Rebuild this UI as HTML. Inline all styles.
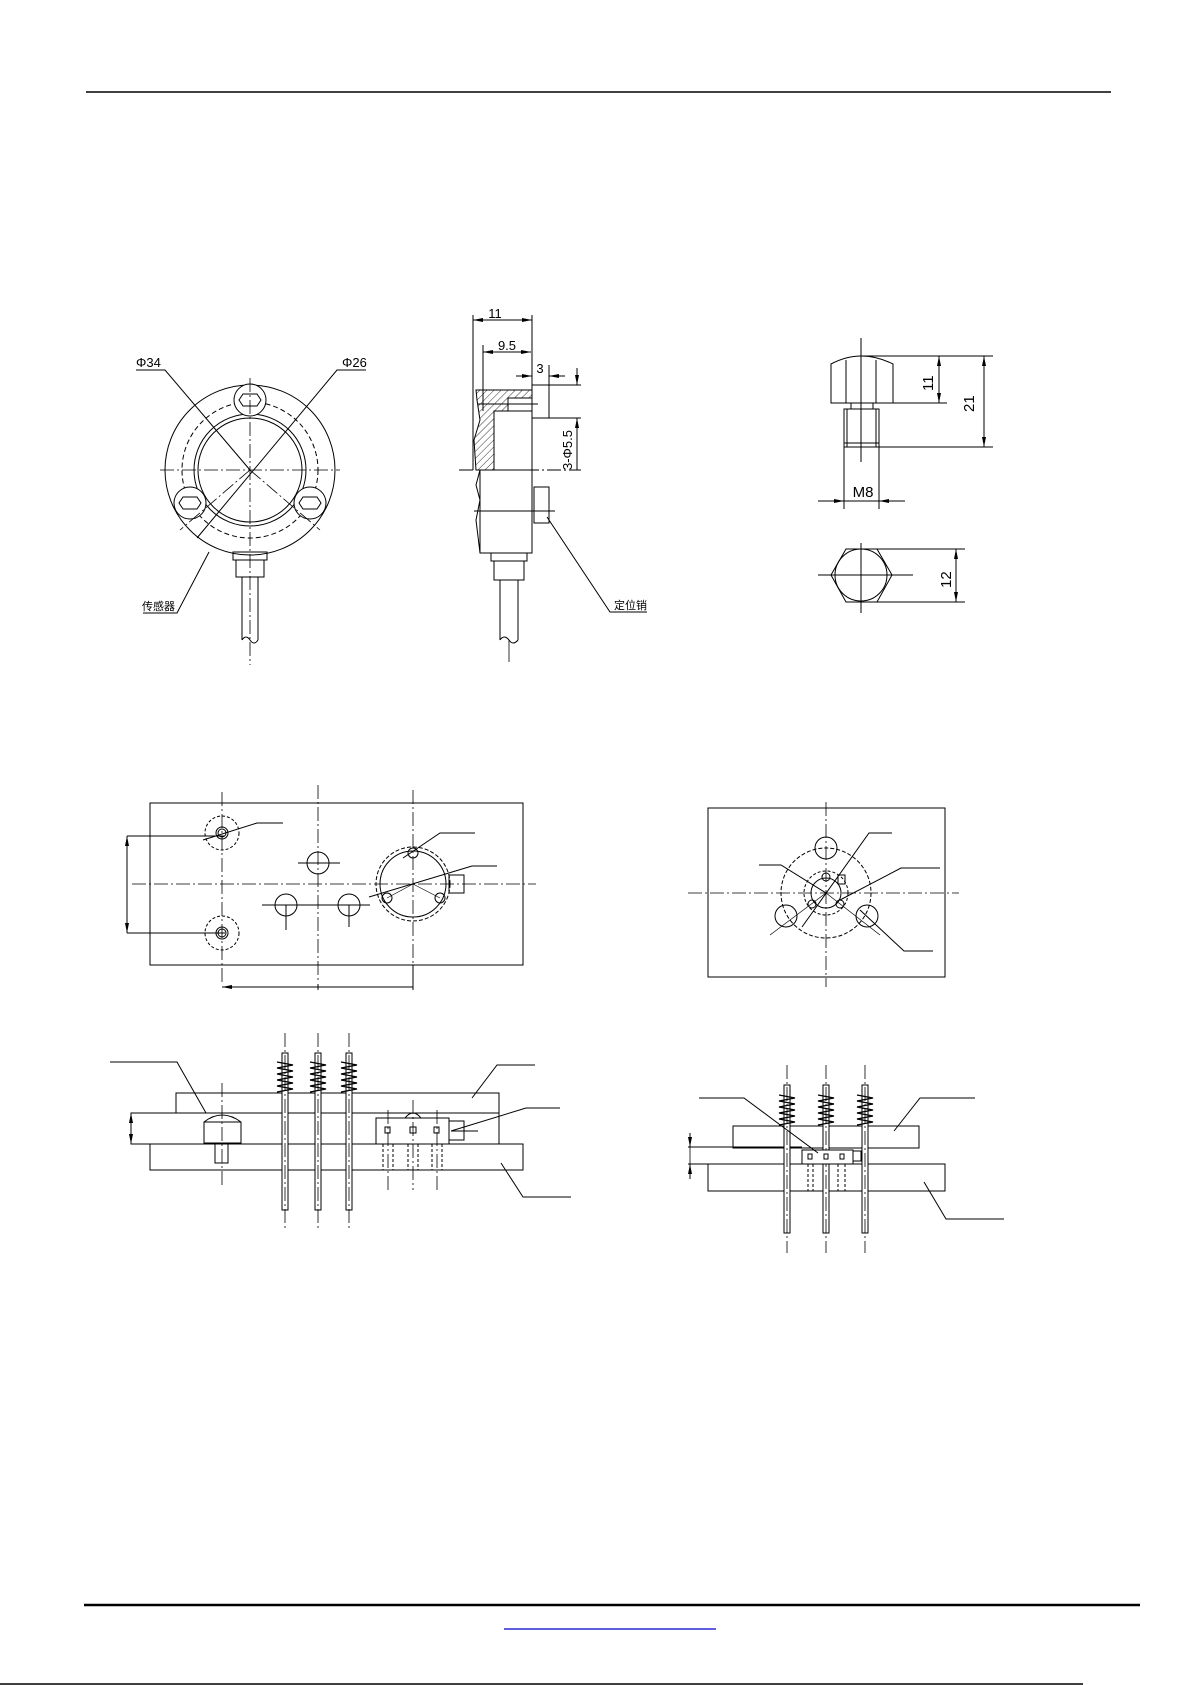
<!DOCTYPE html>
<html><head><meta charset="utf-8"><style>
html,body{margin:0;padding:0;background:#fff;}
svg{display:block;}
text{font-family:"Liberation Sans","Noto Sans CJK SC",sans-serif;fill:#000;}
</style></head><body>
<svg width="1192" height="1685" viewBox="0 0 1192 1685" xmlns="http://www.w3.org/2000/svg">
<defs>
<pattern id="h" width="5" height="5" patternUnits="userSpaceOnUse" patternTransform="rotate(45)"><line x1="0" y1="0" x2="0" y2="5" stroke="#000" stroke-width="0.8"/></pattern>
<marker id="a" markerWidth="10" markerHeight="6" refX="10" refY="3" orient="auto-start-reverse" markerUnits="userSpaceOnUse"><path d="M0,1 L10,3 L0,5z" fill="#000"/></marker>
<g id="spring"><path d="M-8,0 L8,3 L-8,6 L8,9 L-8,12 L8,15 L-8,18 L8,21 L-8,24 L8,27 L-8,30" fill="none" stroke="#000" stroke-width="1.2"/></g>
</defs>
<line x1="86" y1="92" x2="1111" y2="92" stroke="#000" stroke-width="1.5"/>

<g fill="none" stroke="#000" stroke-width="1">
<!-- front view -->
<circle cx="250" cy="470" r="85"/>
<circle cx="250" cy="470" r="68" stroke-dasharray="5 3"/>
<circle cx="250" cy="470" r="56"/>
<circle cx="250" cy="470" r="52"/>
<circle cx="250" cy="400" r="16" fill="#fff"/>
<circle cx="190" cy="503" r="16" fill="#fff"/>
<circle cx="310" cy="503" r="16" fill="#fff"/>
<polygon points="243,394 257,394 261,400 257,406 243,406 239,400"/>
<polygon points="183,497 197,497 201,503 197,509 183,509 179,503"/>
<polygon points="303,497 317,497 321,503 317,509 303,509 299,503"/>
<g stroke-dasharray="14 3 2 3" stroke-width="0.8">
<line x1="160" y1="470" x2="340" y2="470"/>
<line x1="250" y1="378" x2="250" y2="665"/>
<line x1="250" y1="470" x2="180" y2="530"/>
<line x1="250" y1="470" x2="320" y2="530"/>
</g>
<polyline points="136,370 165,370 250,470"/>
<polyline points="366,370 337,370 197,538"/>
<rect x="233" y="552" width="34" height="8"/>
<rect x="236" y="560" width="28" height="17"/>
<line x1="242" y1="577" x2="242" y2="640"/><line x1="258" y1="577" x2="258" y2="640"/>
<path d="M242,640 q4,-6 8,0 q4,6 8,0"/>
<polyline points="143,613 177,613 209,552"/>

<!-- side view -->
<path d="M476,390 L532,390 L532,470 L476,470 L474,440 L480,420 L477,400z" fill="url(#h)"/>
<rect x="508" y="398" width="24" height="20" fill="#fff"/>
<rect x="494" y="411" width="38" height="59" fill="#fff"/>
<line x1="483" y1="390" x2="483" y2="411"/>
<rect x="480" y="470" width="52" height="83"/>
<path d="M480,470 L476,485 L480,500 L476,520 L480,553"/>
<rect x="534" y="487" width="15" height="36"/>
<line x1="474" y1="511" x2="555" y2="511"/>
<line x1="478" y1="404" x2="538" y2="404"/>
<line x1="459" y1="470" x2="581" y2="470" stroke-dasharray="14 3 2 3"/>
<rect x="491" y="553" width="36" height="8"/><rect x="494" y="561" width="30" height="19"/>
<line x1="500" y1="580" x2="500" y2="640"/><line x1="518" y1="580" x2="518" y2="640"/>
<path d="M500,640 q4,-6 9,0 q4,6 9,0"/>
<line x1="509" y1="640" x2="509" y2="662" stroke-width="0.8"/>
<!-- dims side -->
<line x1="473" y1="315" x2="473" y2="470"/><line x1="532" y1="315" x2="532" y2="390"/>
<line x1="473" y1="320" x2="532" y2="320" marker-start="url(#a)" marker-end="url(#a)"/>
<line x1="483" y1="345" x2="483" y2="390"/>
<line x1="483" y1="352" x2="531" y2="352" marker-start="url(#a)" marker-end="url(#a)"/>
<line x1="549" y1="365" x2="549" y2="418"/>
<line x1="516" y1="376" x2="532" y2="376" marker-end="url(#a)"/>
<line x1="565" y1="376" x2="549" y2="376" marker-end="url(#a)"/>
<line x1="532" y1="385" x2="581" y2="385"/><line x1="532" y1="418" x2="581" y2="418"/>
<line x1="577" y1="368" x2="577" y2="385" marker-end="url(#a)"/>
<line x1="577" y1="470" x2="577" y2="418" marker-end="url(#a)"/>
<polyline points="647,612 610,612 547,517"/>
</g>
<text x="136" y="367" font-size="13">Φ34</text>
<text x="342" y="367" font-size="13">Φ26</text>
<text x="142" y="610" font-size="11">传感器</text>
<text x="495" y="318" font-size="13" text-anchor="middle">11</text>
<text x="507" y="350" font-size="13" text-anchor="middle">9.5</text>
<text x="540" y="373" font-size="13" text-anchor="middle">3</text>
<text x="0" y="0" font-size="13" transform="translate(572,470) rotate(-90)">3-Φ5.5</text>
<text x="614" y="609" font-size="11">定位销</text>

<!-- bolt -->
<g fill="none" stroke="#000" stroke-width="1">
<path d="M831,364 Q861,348 893,364 L893,403 L831,403z"/>
<line x1="846" y1="360" x2="846" y2="403"/><line x1="876" y1="360" x2="876" y2="403"/>
<rect x="851" y="403" width="22" height="6"/>
<rect x="844" y="409" width="35" height="38"/>
<line x1="847" y1="409" x2="847" y2="447"/><line x1="876" y1="409" x2="876" y2="447"/>
<line x1="844" y1="443" x2="879" y2="443"/>
<line x1="861" y1="338" x2="861" y2="462"/>
<line x1="861" y1="356" x2="993" y2="356"/>
<line x1="893" y1="403" x2="947" y2="403"/>
<line x1="879" y1="447" x2="993" y2="447"/>
<line x1="939" y1="356" x2="939" y2="403" marker-start="url(#a)" marker-end="url(#a)"/>
<line x1="984" y1="356" x2="984" y2="447" marker-start="url(#a)" marker-end="url(#a)"/>
<line x1="844" y1="447" x2="844" y2="509"/><line x1="879" y1="447" x2="879" y2="509"/>
<line x1="818" y1="501" x2="844" y2="501" marker-end="url(#a)"/>
<line x1="905" y1="501" x2="879" y2="501" marker-end="url(#a)"/>
<line x1="844" y1="501" x2="879" y2="501"/>
<polygon points="831,575 846,549 877,549 892,575 877,602 846,602"/>
<circle cx="861" cy="575" r="26"/>
<line x1="818" y1="575" x2="913" y2="575"/><line x1="861" y1="543" x2="861" y2="613"/>
<line x1="877" y1="549" x2="965" y2="549"/><line x1="877" y1="602" x2="965" y2="602"/>
<line x1="956" y1="549" x2="956" y2="602" marker-start="url(#a)" marker-end="url(#a)"/>
</g>
<text x="0" y="0" font-size="15" transform="translate(933,391) rotate(-90)">11</text>
<text x="0" y="0" font-size="15" transform="translate(974,412) rotate(-90)">21</text>
<text x="863" y="497" font-size="15" text-anchor="middle">M8</text>
<text x="0" y="0" font-size="15" transform="translate(951,588) rotate(-90)">12</text>

<!-- left plan -->
<g fill="none" stroke="#000" stroke-width="1">
<rect x="150" y="803" width="373" height="162"/>
<g stroke-dasharray="14 3 2 3" stroke-width="0.8">
<line x1="222" y1="792" x2="222" y2="985"/>
<line x1="318" y1="785" x2="318" y2="980"/>
<line x1="413" y1="790" x2="413" y2="985"/>
<line x1="132" y1="884" x2="536" y2="884"/>
</g>
<circle cx="222" cy="833" r="17" stroke-dasharray="3 2"/><circle cx="222" cy="833" r="6"/><circle cx="222" cy="833" r="4"/>
<circle cx="222" cy="933" r="17" stroke-dasharray="3 2"/><circle cx="222" cy="933" r="6"/><circle cx="222" cy="933" r="4"/>
<circle cx="318" cy="863" r="11"/><line x1="298" y1="863" x2="340" y2="863"/>
<circle cx="286" cy="905" r="11"/><circle cx="349" cy="905" r="11"/>
<line x1="262" y1="905" x2="370" y2="905"/>
<line x1="286" y1="905" x2="286" y2="930"/><line x1="349" y1="905" x2="349" y2="927"/>
<circle cx="413" cy="884" r="37" stroke-dasharray="4 2"/><circle cx="413" cy="884" r="33"/>
<circle cx="413" cy="853" r="5"/><circle cx="387" cy="898" r="5"/><circle cx="440" cy="898" r="5"/>
<rect x="449" y="875" width="15" height="18"/>
<line x1="413" y1="884" x2="387" y2="898" stroke-width="0.6"/><line x1="413" y1="884" x2="440" y2="898" stroke-width="0.6"/>
<polyline points="283,823 257,823 203,840"/>
<polyline points="475,833 440,833 403,858"/>
<polyline points="497,866 472,866 369,897"/>
<line x1="127" y1="836" x2="127" y2="933" marker-start="url(#a)" marker-end="url(#a)"/>
<line x1="127" y1="836" x2="225" y2="836"/><line x1="127" y1="933" x2="225" y2="933"/>
<line x1="222" y1="987" x2="413" y2="987"/>
<line x1="222" y1="987" x2="250" y2="987" marker-start="url(#a)"/>
<line x1="413" y1="965" x2="413" y2="990"/>
<line x1="318" y1="984" x2="318" y2="990"/>

<!-- right plan -->
<rect x="708" y="808" width="237" height="169"/>
<g stroke-dasharray="14 3 2 3" stroke-width="0.8">
<line x1="826" y1="802" x2="826" y2="987"/>
<line x1="688" y1="893" x2="959" y2="893"/>
</g>
<circle cx="826" cy="893" r="45" stroke-dasharray="4 2"/>
<circle cx="826" cy="893" r="22" stroke-dasharray="3 2"/>
<circle cx="826" cy="893" r="15"/>
<circle cx="826" cy="848" r="11"/><circle cx="786" cy="916" r="11"/><circle cx="867" cy="916" r="11"/>
<circle cx="812" cy="904" r="4"/><circle cx="840" cy="904" r="4"/><circle cx="826" cy="877" r="4"/>
<rect x="838" y="875" width="7" height="9"/>
<polyline points="892,833 869,833 802,927"/>
<polyline points="759,865 781,865 826,893"/>
<polyline points="940,868 901,868 840,900"/>
<polyline points="933,951 904,951 860,910"/>
<line x1="826" y1="893" x2="770" y2="935" stroke-width="0.7"/>
<line x1="826" y1="893" x2="880" y2="935" stroke-width="0.7"/>

<!-- left side assembly -->
<rect x="176" y="1093" width="323" height="20"/>
<rect x="131" y="1113" width="368" height="31"/>
<rect x="150" y="1144" width="373" height="26"/>
<line x1="131" y1="1113" x2="131" y2="1144" marker-start="url(#a)" marker-end="url(#a)"/>
<path d="M204,1143 L204,1122 Q222,1108 241,1122 L241,1143z" fill="#fff"/>
<line x1="204" y1="1122" x2="241" y2="1122"/>
<rect x="215" y="1144" width="13" height="19"/>
<line x1="222" y1="1083" x2="222" y2="1187" stroke-dasharray="14 3 2 3" stroke-width="0.8"/>
<g>
<rect x="282" y="1053" width="6" height="157" fill="#fff"/>
<rect x="315" y="1053" width="6" height="157" fill="#fff"/>
<rect x="346" y="1053" width="6" height="157" fill="#fff"/>
</g>
<g stroke-dasharray="14 3 2 3" stroke-width="0.8">
<line x1="285" y1="1033" x2="285" y2="1229"/><line x1="318" y1="1033" x2="318" y2="1229"/><line x1="349" y1="1033" x2="349" y2="1229"/>
</g>
<use href="#spring" x="285" y="1062"/><use href="#spring" x="318" y="1062"/><use href="#spring" x="349" y="1062"/>
<rect x="376" y="1118" width="73" height="26" fill="#fff"/>
<rect x="449" y="1121" width="15" height="19"/>
<path d="M405,1118 Q413,1108 421,1118"/>
<rect x="385" y="1127" width="5" height="6"/><rect x="410" y="1127" width="6" height="6"/><rect x="434" y="1127" width="5" height="6"/>
<line x1="383" y1="1144" x2="383" y2="1170" stroke-dasharray="3 2"/><line x1="393" y1="1144" x2="393" y2="1170" stroke-dasharray="3 2"/>
<line x1="408" y1="1144" x2="408" y2="1170" stroke-dasharray="3 2"/><line x1="418" y1="1144" x2="418" y2="1170" stroke-dasharray="3 2"/>
<line x1="432" y1="1144" x2="432" y2="1170" stroke-dasharray="3 2"/><line x1="442" y1="1144" x2="442" y2="1170" stroke-dasharray="3 2"/>
<g stroke-dasharray="14 3 2 3" stroke-width="0.8">
<line x1="388" y1="1110" x2="388" y2="1190"/><line x1="413" y1="1100" x2="413" y2="1190"/><line x1="437" y1="1110" x2="437" y2="1190"/>
</g>
<polyline points="110,1062 177,1062 206,1113"/>
<polyline points="535,1065 497,1065 472,1098"/>
<polyline points="560,1108 526,1108 451,1131"/>
<line x1="451" y1="1131" x2="478" y2="1131"/>
<polyline points="571,1197 523,1197 501,1163"/>

<!-- right side assembly -->
<rect x="733" y="1126" width="186" height="22"/>
<line x1="688" y1="1147" x2="802" y2="1147"/><line x1="688" y1="1164" x2="708" y2="1164"/>
<rect x="708" y="1164" width="237" height="27"/>
<line x1="690" y1="1133" x2="690" y2="1179" stroke-width="0.8"/>
<line x1="690" y1="1133" x2="690" y2="1147" marker-end="url(#a)"/>
<line x1="690" y1="1179" x2="690" y2="1164" marker-end="url(#a)"/>
<rect x="784" y="1085" width="6" height="148" fill="#fff"/>
<rect x="823" y="1085" width="6" height="148" fill="#fff"/>
<rect x="862" y="1085" width="6" height="148" fill="#fff"/>
<g stroke-dasharray="14 3 2 3" stroke-width="0.8">
<line x1="787" y1="1065" x2="787" y2="1253"/><line x1="826" y1="1065" x2="826" y2="1253"/><line x1="865" y1="1065" x2="865" y2="1253"/>
</g>
<use href="#spring" x="787" y="1095"/><use href="#spring" x="826" y="1095"/><use href="#spring" x="865" y="1095"/>
<rect x="802" y="1150" width="51" height="14" fill="#fff"/>
<rect x="853" y="1151" width="8" height="10"/>
<rect x="808" y="1154" width="4" height="5"/><rect x="824" y="1154" width="4" height="5"/><rect x="840" y="1154" width="4" height="5"/>
<line x1="808" y1="1164" x2="808" y2="1191" stroke-dasharray="3 2"/><line x1="813" y1="1164" x2="813" y2="1191" stroke-dasharray="3 2"/>
<line x1="838" y1="1164" x2="838" y2="1191" stroke-dasharray="3 2"/><line x1="845" y1="1164" x2="845" y2="1191" stroke-dasharray="3 2"/>
<polyline points="699,1098 744,1098 818,1153"/>
<polyline points="975,1098 920,1098 894,1131"/>
<polyline points="1004,1219 946,1219 924,1182"/>
</g>

<line x1="84" y1="1605" x2="1140" y2="1605" stroke="#000" stroke-width="2.5"/>
<line x1="504" y1="1629" x2="716" y2="1629" stroke="#0000cc" stroke-width="1.2"/>
<line x1="0" y1="1684" x2="1083" y2="1684" stroke="#000" stroke-width="1.5"/>
</svg>
</body></html>
